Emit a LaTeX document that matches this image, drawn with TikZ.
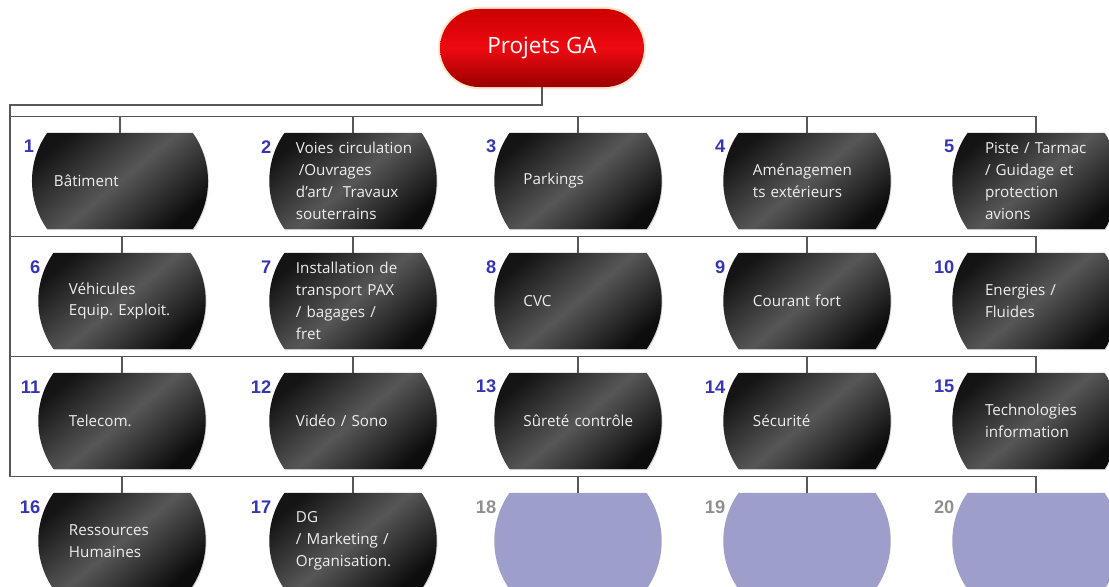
\documentclass[tikz,border=0pt]{standalone}
\usepackage{fontspec}
\setmainfont{Open Sans}
\newfontfamily\numfont{Liberation Sans}
\usepackage{xcolor}
\definecolor{gared}{HTML}{EE0A12}
\definecolor{wiregray}{HTML}{575757}
\definecolor{numblue}{HTML}{3535B5}
\definecolor{numgray}{HTML}{8F8F8F}
\definecolor{lavender}{HTML}{9D9EC9}
\definecolor{boxtext}{HTML}{EEEEEE}
\usepackage{tikz}
\usetikzlibrary{positioning,shapes.misc,shadows}

\begin{document}
\begin{tikzpicture}[x=0.025cm, y=-0.025cm,
    wire/.style={draw=wiregray, line width=1pt},
    root/.style={rounded rectangle, minimum width=5.33cm, minimum height=1.95cm,
      top color=red!80!black, bottom color=red!60!black, middle color=gared,
      preaction={draw=orange!40, line width=3pt, opacity=0.5},
      text=white, font=\fontsize{16}{19}\selectfont},
    tile/.style 2 args={rounded rectangle, rounded rectangle arc length=70,
      minimum width=#1cm, text width=#2cm, minimum height=2.4cm,
      inner xsep=0pt, inner ysep=0pt, align=left,
      execute at begin node={\hyphenpenalty=10000\exhyphenpenalty=10000},
      font=\fontsize{10.8}{15.6}\selectfont, text=boxtext},
    unit/.style 2 args={tile={#1}{#2}, top color=black!92, bottom color=black!95,
      middle color=black!66, shading angle=40,
      drop shadow={shadow xshift=0.6pt, shadow yshift=-0.8pt, opacity=0.3}},
    spare/.style 2 args={tile={#1}{#2}, fill=lavender},
    num/.style={anchor=east, inner sep=1pt, text=numblue,
      font=\numfont\bfseries\fontsize{13}{13}\selectfont}]
  \useasboundingbox (0,0) rectangle (1109,586);
  \clip (0,0) rectangle (1109,586);
  \node[root] (root) at (542,48) {Projets GA};
  % row 1
  \node[unit={4.4}{3.3}]     (b1) at (120,181) {Bâtiment};
  \node[unit={3.95}{2.85}]   (b2) at (353,181) {Voies~circulation\\\hspace{2pt}/Ouvrages\\d'art/~~Travaux\\souterrains};
  \node[unit={3.825}{2.725}] (b3) at (578,181) {Parkings};
  \node[unit={3.8}{2.7}]     (b4) at (807,181) {Aménagemen\\ts~extérieurs};
  \node[unit={3.65}{2.55}]   (b5) at (1036,181) {Piste~/~Tarmac\\/~Guidage~et\\protection\\avions};
  % row 2
  \node[unit={3.75}{2.65}]   (b6) at (122,301) {Véhicules\\Equip.~Exploit.};
  \node[unit={3.95}{2.85}]   (b7) at (353,301) {Installation~de\\transport~PAX\\/~bagages~/\\fret};
  \node[unit={3.825}{2.725}] (b8) at (578,301) {CVC};
  \node[unit={3.8}{2.7}]     (b9) at (807,301) {Courant~fort};
  \node[unit={3.65}{2.55}]   (b10) at (1036,301) {Energies~/\\Fluides};
  % row 3
  \node[unit={3.75}{2.65}]   (b11) at (122,421) {Telecom.};
  \node[unit={3.95}{2.85}]   (b12) at (353,421) {Vidéo~/~Sono};
  \node[unit={3.825}{2.725}] (b13) at (578,421) {Sûreté~contrôle};
  \node[unit={3.8}{2.7}]     (b14) at (807,421) {Sécurité};
  \node[unit={3.65}{2.55}]   (b15) at (1036,421) {Technologies\\information};
  % row 4
  \node[unit={3.75}{2.65}]   (b16) at (122,541) {Ressources\\Humaines};
  \node[unit={3.95}{2.85}]   (b17) at (353,541) {DG\\/~Marketing~/\\Organisation.};
  \node[spare={3.825}{2.725}] (b18) at (578,541) {};
  \node[spare={3.8}{2.7}]     (b19) at (807,541) {};
  \node[spare={3.65}{2.55}]   (b20) at (1036,541) {};
  % numbers
  \foreach \i in {1,...,17}
    \path (b\i.west |- b\i.north) ++(4,14) node[num] (n\i) {\i};
  \foreach \i in {18,19,20}
    \path (b\i.west |- b\i.north) ++(4,14) node[num, text=numgray] (n\i) {\i};
  % wires
  \coordinate (spine) at (10,105);
  \foreach \e in {5,10,15,20} {
    \path (b\e.north) ++(0,-16) coordinate (bus\e);
    \draw[wire] (b\e.north) -- (bus\e) -- (spine |- bus\e);
  }
  \draw[wire] (root.south) |- (spine) -- (spine |- bus20);
  \foreach \i in {1,...,20}
    \draw[wire] (b\i.north) -- ++(0,-16);
\end{tikzpicture}
\end{document}
